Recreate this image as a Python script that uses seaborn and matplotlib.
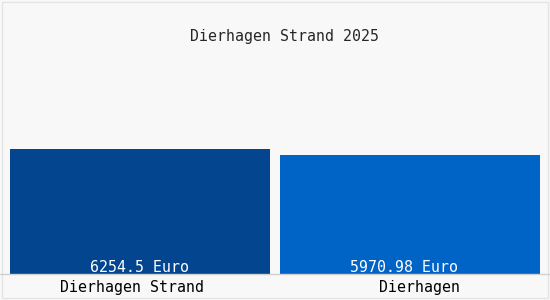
import matplotlib
matplotlib.use("Agg")
import matplotlib.pyplot as plt
import matplotlib.patches as mpatches
import seaborn as sns

# values
places = ["Dierhagen Strand", "Dierhagen"]
prices = [6254.5, 5970.98]
labels = ["6254.5 Euro", "5970.98 Euro"]
colors = ["#03468f", "#0063c6"]
title = "Dierhagen Strand 2025"

sns.set_style("white")
plt.rcParams["font.family"] = ["DejaVu Sans Mono", "DejaVu Sans"]

bg = "#f8f8f8"
fig = plt.figure(figsize=(5.5, 3.0), dpi=100, facecolor=bg)

# axes: bars run from x=10 to 540 px, baseline at y=274 px
ax = fig.add_axes([10 / 550, 26 / 300, 530 / 550, 234 / 300])
ax.set_facecolor(bg)

w = 520 / 540
sns.barplot(x=places, y=prices, hue=places, palette=colors, width=w,
            saturation=1, legend=False, ax=ax, linewidth=0)

ax.set_xlim(-w / 2, 1 + w / 2)
ax.set_ylim(0, prices[0] * 234 / 125)
for s in ["top", "right", "left", "bottom"]:
    ax.spines[s].set_visible(False)
ax.set_yticks([])
ax.set_xticks([])
ax.set_xlabel("")
ax.set_ylabel("")

px = 72 / 100  # points per pixel
val_dx = [0, -6]
name_dx = [-8, 10]
for i, txt in enumerate(labels):
    # value label inside the bar, at the bottom
    ax.annotate(txt, xy=(i, 0), xytext=(val_dx[i] * px, 2 * px),
                textcoords="offset points", ha="center", va="baseline",
                color="white", fontsize=10.7)
    # category name under the baseline
    ax.annotate(places[i], xy=(i, 0), xytext=(name_dx[i] * px, -18 * px),
                textcoords="offset points", ha="center", va="baseline",
                color="black", fontsize=10.7)

fig.text(284 / 550, 1 - 41 / 300, title, ha="center", va="baseline",
         fontsize=10.7)

# baseline across the whole figure and thin frame
fig.add_artist(plt.Line2D([0, 1], [26 / 300, 26 / 300], color="#d0d0d0", lw=1,
                          transform=fig.transFigure))
fig.patches.append(mpatches.Rectangle((2 / 550, 2 / 300), 546 / 550, 296 / 300,
                                      fill=False, edgecolor="#e4e4e4", lw=1,
                                      transform=fig.transFigure, figure=fig))

fig.savefig("out.png", dpi=100, facecolor=bg)
